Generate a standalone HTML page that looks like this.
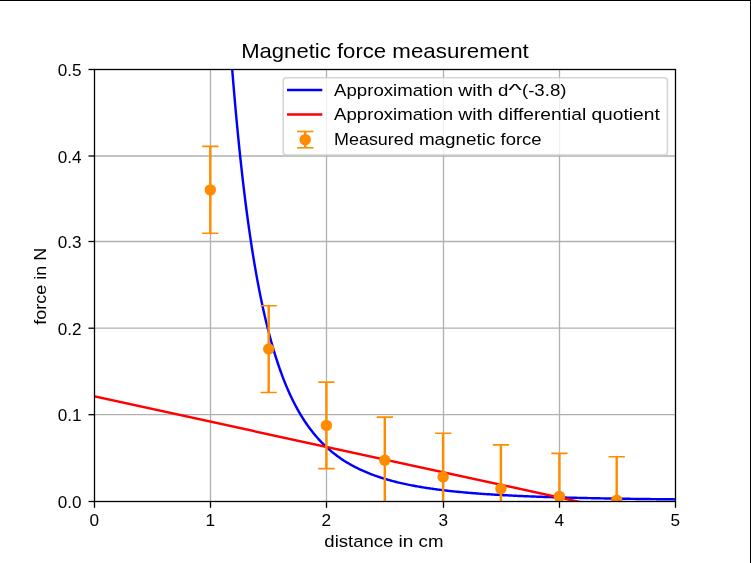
<!DOCTYPE html>
<html><head><meta charset="utf-8"><title>Magnetic force measurement</title>
<style>html,body{margin:0;padding:0;background:#fff}body{width:751px;height:563px;overflow:hidden;position:relative;font-family:"Liberation Sans",sans-serif}svg{display:block;position:absolute;left:0;top:0;will-change:transform}text{font-family:"Liberation Sans",sans-serif;fill:#000}</style>
</head><body>
<svg width="751" height="563" viewBox="0 0 751 563">
<rect x="0" y="0" width="751" height="563" fill="#fff"/>
<rect x="0" y="0" width="751" height="1" fill="#000"/>
<rect x="750" y="0" width="1" height="563" fill="#000"/>
<defs><clipPath id="ax"><rect x="94.50" y="69.50" width="581.00" height="432.00"/></clipPath></defs>
<g stroke="#b0b0b0" stroke-width="1.3" fill="none">
<line x1="210.50" y1="69.50" x2="210.50" y2="501.50"/>
<line x1="326.50" y1="69.50" x2="326.50" y2="501.50"/>
<line x1="443.50" y1="69.50" x2="443.50" y2="501.50"/>
<line x1="559.50" y1="69.50" x2="559.50" y2="501.50"/>
<line x1="94.50" y1="414.70" x2="675.50" y2="414.70"/>
<line x1="94.50" y1="328.20" x2="675.50" y2="328.20"/>
<line x1="94.50" y1="241.50" x2="675.50" y2="241.50"/>
<line x1="94.50" y1="156.00" x2="675.50" y2="156.00"/>
</g>
<g clip-path="url(#ax)" fill="none" stroke-width="2.44" stroke-linejoin="round">
<polyline stroke="#0000ff" points="230.25,44.21 231.42,59.49 232.58,74.14 233.74,88.19 234.90,101.66 236.06,114.59 237.23,127.00 238.39,138.91 239.55,150.35 240.71,161.35 241.87,171.92 243.04,182.07 244.20,191.84 245.36,201.24 246.52,210.28 247.68,218.99 248.85,227.37 250.01,235.44 251.17,243.22 252.33,250.71 253.49,257.93 254.66,264.89 255.82,271.61 256.98,278.09 258.14,284.34 259.30,290.37 260.47,296.20 261.63,301.82 262.79,307.25 263.95,312.50 265.11,317.57 266.28,322.47 267.44,327.21 268.60,331.79 269.76,336.23 270.92,340.51 272.09,344.66 273.25,348.68 274.41,352.56 275.57,356.33 276.73,359.97 277.90,363.50 279.06,366.92 280.22,370.24 281.38,373.45 282.54,376.57 283.71,379.59 284.87,382.51 286.03,385.35 287.19,388.11 288.35,390.78 289.52,393.38 290.68,395.90 291.84,398.34 293.00,400.72 294.16,403.02 295.33,405.26 296.49,407.44 297.65,409.56 298.81,411.61 299.97,413.61 301.14,415.55 302.30,417.44 303.46,419.27 304.62,421.06 305.78,422.80 306.95,424.49 308.11,426.13 309.27,427.73 310.43,429.29 311.59,430.80 312.76,432.28 313.92,433.72 315.08,435.12 316.24,436.48 317.40,437.81 318.57,439.10 319.73,440.37 320.89,441.59 322.05,442.79 323.21,443.96 324.38,445.10 325.54,446.21 326.70,447.29 327.86,448.35 329.02,449.38 330.19,450.38 331.35,451.36 332.51,452.32 333.67,453.25 334.83,454.16 336.00,455.05 337.16,455.92 338.32,456.77 339.48,457.59 340.64,458.40 341.81,459.19 342.97,459.96 344.13,460.72 345.29,461.45 346.45,462.17 347.62,462.87 348.78,463.56 349.94,464.23 351.10,464.89 352.26,465.53 353.43,466.16 354.59,466.77 355.75,467.37 356.91,467.96 358.07,468.53 359.24,469.09 360.40,469.64 361.56,470.18 362.72,470.70 363.88,471.22 365.05,471.72 366.21,472.21 367.37,472.70 368.53,473.17 369.69,473.63 370.86,474.08 372.02,474.53 373.18,474.96 374.34,475.39 375.50,475.80 376.67,476.21 377.83,476.61 378.99,477.00 380.15,477.38 381.31,477.76 382.48,478.13 383.64,478.49 384.80,478.84 385.96,479.19 387.12,479.53 388.29,479.86 389.45,480.19 390.61,480.51 391.77,480.82 392.93,481.13 394.10,481.43 395.26,481.73 396.42,482.02 397.58,482.31 398.74,482.59 399.91,482.86 401.07,483.13 402.23,483.39 403.39,483.65 404.55,483.91 405.72,484.16 406.88,484.40 408.04,484.64 409.20,484.88 410.36,485.11 411.53,485.34 412.69,485.56 413.85,485.78 415.01,486.00 416.17,486.21 417.34,486.41 418.50,486.62 419.66,486.82 420.82,487.02 421.98,487.21 423.15,487.40 424.31,487.59 425.47,487.77 426.63,487.95 427.79,488.13 428.96,488.30 430.12,488.47 431.28,488.64 432.44,488.81 433.60,488.97 434.77,489.13 435.93,489.28 437.09,489.44 438.25,489.59 439.41,489.74 440.58,489.89 441.74,490.03 442.90,490.17 444.06,490.31 445.22,490.45 446.39,490.58 447.55,490.72 448.71,490.85 449.87,490.98 451.03,491.10 452.20,491.23 453.36,491.35 454.52,491.47 455.68,491.59 456.84,491.71 458.01,491.82 459.17,491.93 460.33,492.04 461.49,492.15 462.65,492.26 463.82,492.37 464.98,492.47 466.14,492.57 467.30,492.68 468.46,492.77 469.63,492.87 470.79,492.97 471.95,493.06 473.11,493.16 474.27,493.25 475.44,493.34 476.60,493.43 477.76,493.52 478.92,493.60 480.08,493.69 481.25,493.77 482.41,493.86 483.57,493.94 484.73,494.02 485.89,494.10 487.06,494.18 488.22,494.25 489.38,494.33 490.54,494.40 491.70,494.48 492.87,494.55 494.03,494.62 495.19,494.69 496.35,494.76 497.51,494.83 498.68,494.90 499.84,494.96 501.00,495.03 502.16,495.09 503.32,495.16 504.49,495.22 505.65,495.28 506.81,495.34 507.97,495.40 509.13,495.46 510.30,495.52 511.46,495.58 512.62,495.64 513.78,495.69 514.94,495.75 516.11,495.80 517.27,495.86 518.43,495.91 519.59,495.96 520.75,496.01 521.92,496.06 523.08,496.11 524.24,496.16 525.40,496.21 526.56,496.26 527.73,496.31 528.89,496.36 530.05,496.40 531.21,496.45 532.37,496.49 533.54,496.54 534.70,496.58 535.86,496.63 537.02,496.67 538.18,496.71 539.35,496.75 540.51,496.79 541.67,496.83 542.83,496.87 543.99,496.91 545.16,496.95 546.32,496.99 547.48,497.03 548.64,497.07 549.80,497.10 550.97,497.14 552.13,497.18 553.29,497.21 554.45,497.25 555.61,497.28 556.78,497.32 557.94,497.35 559.10,497.39 560.26,497.42 561.42,497.45 562.59,497.48 563.75,497.52 564.91,497.55 566.07,497.58 567.23,497.61 568.40,497.64 569.56,497.67 570.72,497.70 571.88,497.73 573.04,497.76 574.21,497.79 575.37,497.81 576.53,497.84 577.69,497.87 578.85,497.90 580.02,497.92 581.18,497.95 582.34,497.98 583.50,498.00 584.66,498.03 585.83,498.05 586.99,498.08 588.15,498.10 589.31,498.13 590.47,498.15 591.64,498.18 592.80,498.20 593.96,498.22 595.12,498.25 596.28,498.27 597.45,498.29 598.61,498.31 599.77,498.34 600.93,498.36 602.09,498.38 603.26,498.40 604.42,498.42 605.58,498.44 606.74,498.46 607.90,498.48 609.07,498.50 610.23,498.52 611.39,498.54 612.55,498.56 613.71,498.58 614.88,498.60 616.04,498.62 617.20,498.64 618.36,498.66 619.52,498.68 620.69,498.69 621.85,498.71 623.01,498.73 624.17,498.75 625.33,498.76 626.50,498.78 627.66,498.80 628.82,498.81 629.98,498.83 631.14,498.85 632.31,498.86 633.47,498.88 634.63,498.90 635.79,498.91 636.95,498.93 638.12,498.94 639.28,498.96 640.44,498.97 641.60,498.99 642.76,499.00 643.93,499.02 645.09,499.03 646.25,499.04 647.41,499.06 648.57,499.07 649.74,499.09 650.90,499.10 652.06,499.11 653.22,499.13 654.38,499.14 655.55,499.15 656.71,499.17 657.87,499.18 659.03,499.19 660.19,499.20 661.36,499.22 662.52,499.23 663.68,499.24 664.84,499.25 666.00,499.26 667.17,499.28 668.33,499.29 669.49,499.30 670.65,499.31 671.81,499.32 672.98,499.33 674.14,499.35 675.30,499.36"/>
<line stroke="#ff0000" x1="90.50" y1="395.58" x2="600.00" y2="506.36"/>
</g>
<g clip-path="url(#ax)">
<g stroke="#ff8c00" stroke-width="2.44" fill="none">
<line x1="210.30" y1="146.40" x2="210.30" y2="233.30"/>
<line x1="268.70" y1="305.80" x2="268.70" y2="392.50"/>
<line x1="326.40" y1="382.10" x2="326.40" y2="468.60"/>
<line x1="384.80" y1="417.10" x2="384.80" y2="503.90"/>
<line x1="443.10" y1="433.30" x2="443.10" y2="520.00"/>
<line x1="500.90" y1="444.90" x2="500.90" y2="531.00"/>
<line x1="559.40" y1="453.40" x2="559.40" y2="540.00"/>
<line x1="616.70" y1="456.80" x2="616.70" y2="543.00"/>
</g>
<g stroke="#ff8c00" stroke-width="1.63" fill="none">
<line x1="202.15" y1="146.40" x2="218.45" y2="146.40"/>
<line x1="202.15" y1="233.30" x2="218.45" y2="233.30"/>
<line x1="260.55" y1="305.80" x2="276.85" y2="305.80"/>
<line x1="260.55" y1="392.50" x2="276.85" y2="392.50"/>
<line x1="318.25" y1="382.10" x2="334.55" y2="382.10"/>
<line x1="318.25" y1="468.60" x2="334.55" y2="468.60"/>
<line x1="376.65" y1="417.10" x2="392.95" y2="417.10"/>
<line x1="376.65" y1="503.90" x2="392.95" y2="503.90"/>
<line x1="434.95" y1="433.30" x2="451.25" y2="433.30"/>
<line x1="434.95" y1="520.00" x2="451.25" y2="520.00"/>
<line x1="492.75" y1="444.90" x2="509.05" y2="444.90"/>
<line x1="492.75" y1="531.00" x2="509.05" y2="531.00"/>
<line x1="551.25" y1="453.40" x2="567.55" y2="453.40"/>
<line x1="551.25" y1="540.00" x2="567.55" y2="540.00"/>
<line x1="608.55" y1="456.80" x2="624.85" y2="456.80"/>
<line x1="608.55" y1="543.00" x2="624.85" y2="543.00"/>
</g>
<g fill="#ff8c00" stroke="none">
<circle cx="210.30" cy="189.90" r="5.7"/>
<circle cx="268.70" cy="349.00" r="5.7"/>
<circle cx="326.40" cy="425.40" r="5.7"/>
<circle cx="384.80" cy="460.30" r="5.7"/>
<circle cx="443.10" cy="476.90" r="5.7"/>
<circle cx="500.90" cy="488.60" r="5.7"/>
<circle cx="559.40" cy="496.40" r="5.7"/>
<circle cx="616.70" cy="500.30" r="5.7"/>
</g>
</g>
<g stroke="#000" stroke-width="1.3" fill="none" stroke-linecap="square">
<rect x="94.50" y="69.50" width="581.00" height="432.00"/>
</g>
<g stroke="#000" stroke-width="1.3" fill="none">
<line x1="94.50" y1="501.50" x2="94.50" y2="507.80"/>
<line x1="210.50" y1="501.50" x2="210.50" y2="507.80"/>
<line x1="326.50" y1="501.50" x2="326.50" y2="507.80"/>
<line x1="443.50" y1="501.50" x2="443.50" y2="507.80"/>
<line x1="559.50" y1="501.50" x2="559.50" y2="507.80"/>
<line x1="675.50" y1="501.50" x2="675.50" y2="507.80"/>
<line x1="94.50" y1="501.50" x2="88.50" y2="501.50"/>
<line x1="94.50" y1="414.70" x2="88.50" y2="414.70"/>
<line x1="94.50" y1="328.20" x2="88.50" y2="328.20"/>
<line x1="94.50" y1="241.50" x2="88.50" y2="241.50"/>
<line x1="94.50" y1="156.00" x2="88.50" y2="156.00"/>
<line x1="94.50" y1="69.50" x2="88.50" y2="69.50"/>
</g>
<g font-size="17.20">
<text x="94.20" y="526" text-anchor="middle">0</text>
<text x="210.20" y="526" text-anchor="middle">1</text>
<text x="326.20" y="526" text-anchor="middle">2</text>
<text x="443.20" y="526" text-anchor="middle">3</text>
<text x="559.20" y="526" text-anchor="middle">4</text>
<text x="675.20" y="526" text-anchor="middle">5</text>
<text x="81.5" y="508.20" text-anchor="end" textLength="23.8" lengthAdjust="spacingAndGlyphs">0.0</text>
<text x="81.5" y="421.40" text-anchor="end" textLength="23.8" lengthAdjust="spacingAndGlyphs">0.1</text>
<text x="81.5" y="334.90" text-anchor="end" textLength="23.8" lengthAdjust="spacingAndGlyphs">0.2</text>
<text x="81.5" y="248.20" text-anchor="end" textLength="23.8" lengthAdjust="spacingAndGlyphs">0.3</text>
<text x="81.5" y="162.70" text-anchor="end" textLength="23.8" lengthAdjust="spacingAndGlyphs">0.4</text>
<text x="81.5" y="76.20" text-anchor="end" textLength="23.8" lengthAdjust="spacingAndGlyphs">0.5</text>
<text y="547.30" font-size="17.20"><tspan x="324.33" textLength="69.07" lengthAdjust="spacingAndGlyphs">distance</tspan> <tspan x="398.58" textLength="14.86" lengthAdjust="spacingAndGlyphs">in</tspan> <tspan x="418.63" textLength="24.84" lengthAdjust="spacingAndGlyphs">cm</tspan></text>
<text transform="translate(46.3,286.2) rotate(-90)" x="0" y="0" text-anchor="middle" textLength="77.1" lengthAdjust="spacingAndGlyphs">force in N</text>
</g>
<text y="57.80" font-size="20.60"><tspan x="241.21" textLength="89.52" lengthAdjust="spacingAndGlyphs">Magnetic</tspan> <tspan x="336.95" textLength="49.23" lengthAdjust="spacingAndGlyphs">force</tspan> <tspan x="392.39" textLength="136.40" lengthAdjust="spacingAndGlyphs">measurement</tspan></text>
<rect x="283.20" y="77.80" width="384.20" height="77.20" rx="3.3" ry="3.3" fill="#fff" fill-opacity="0.8" stroke="#ccc" stroke-opacity="0.8" stroke-width="1.63"/>
<line x1="287" y1="90" x2="322.3" y2="90" stroke="#0000ff" stroke-width="2.44"/>
<line x1="287" y1="114.5" x2="322.3" y2="114.5" stroke="#ff0000" stroke-width="2.44"/>
<g stroke="#ff8c00" fill="none"><line x1="305.2" y1="131.5" x2="305.2" y2="147.8" stroke-width="2.44"/><line x1="297.05" y1="131.5" x2="313.35" y2="131.5" stroke-width="1.63"/><line x1="297.05" y1="147.8" x2="313.35" y2="147.8" stroke-width="1.63"/></g>
<circle cx="305.2" cy="139.6" r="5.7" fill="#ff8c00"/>
<g font-size="17.20">
<text y="95.70" font-size="17.20"><tspan x="334.10" textLength="118.92" lengthAdjust="spacingAndGlyphs">Approximation</tspan> <tspan x="458.21" textLength="34.58" lengthAdjust="spacingAndGlyphs">with</tspan> <tspan x="497.97" textLength="10.35" lengthAdjust="spacingAndGlyphs">d</tspan><tspan x="508.32" textLength="13.66" lengthAdjust="spacingAndGlyphs">^</tspan><tspan x="521.97" textLength="44.52" lengthAdjust="spacingAndGlyphs">(-3.8)</tspan></text>
<text y="120.20" font-size="17.20"><tspan x="334.10" textLength="118.92" lengthAdjust="spacingAndGlyphs">Approximation</tspan> <tspan x="458.21" textLength="34.58" lengthAdjust="spacingAndGlyphs">with</tspan> <tspan x="497.97" textLength="88.27" lengthAdjust="spacingAndGlyphs">differential</tspan> <tspan x="591.43" textLength="68.32" lengthAdjust="spacingAndGlyphs">quotient</tspan></text>
<text y="144.70" font-size="17.20"><tspan x="334.10" textLength="79.62" lengthAdjust="spacingAndGlyphs">Measured</tspan> <tspan x="418.91" textLength="76.46" lengthAdjust="spacingAndGlyphs">magnetic</tspan> <tspan x="500.54" textLength="41.05" lengthAdjust="spacingAndGlyphs">force</tspan></text>
</g>
</svg>
</body></html>
